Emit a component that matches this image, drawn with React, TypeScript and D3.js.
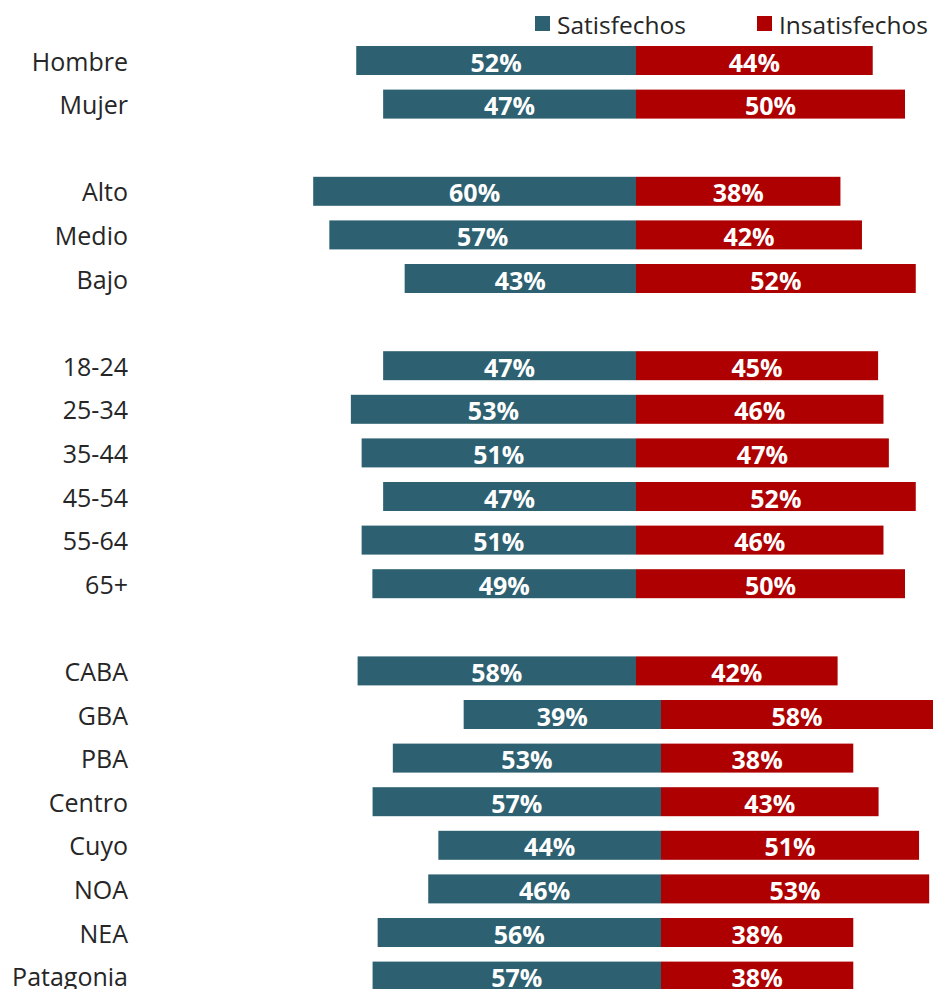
import React from "react";
import * as d3 from "d3";

const categories = [
  "Hombre", "Mujer",
  "Alto", "Medio", "Bajo",
  "18-24", "25-34", "35-44", "45-54", "55-64", "65+",
  "CABA", "GBA", "PBA", "Centro", "Cuyo", "NOA", "NEA", "Patagonia",
];
const groupIndex = [0, 0, 1, 1, 1, 2, 2, 2, 2, 2, 2, 3, 3, 3, 3, 3, 3, 3, 3];
const panelIndex = [0, 0, 0, 0, 0, 0, 0, 0, 0, 0, 0, 1, 2, 2, 2, 2, 2, 2, 2];
const satisfechos = [52, 47, 60, 57, 43, 47, 53, 51, 47, 51, 49, 58, 39, 53, 57, 44, 46, 56, 57];
const insatisfechos = [44, 50, 38, 42, 52, 45, 46, 47, 52, 46, 50, 42, 58, 38, 43, 51, 53, 38, 38];
const seriesNames = ["Satisfechos", "Insatisfechos"];

// layout
const W = 933;
const H = 989;
const COLORS = ["#2d6171", "#ae0000"];
const panelCenters = [636, 636, 661];
const panelPxPerPct = [5.38, 4.8, 5.06];
const FONT = "'Open Sans', 'Noto Sans', sans-serif";
const TEXT = "#262626";

export default function App() {
  const nSlots = categories.length + groupIndex[groupIndex.length - 1];
  const slots = d3.range(nSlots).map(String);
  const y = d3
    .scaleBand<string>()
    .domain(slots)
    .range([38.7, 38.7 + nSlots * 43.6])
    .paddingInner(0.335)
    .paddingOuter(0.1675);
  const bw = y.bandwidth();

  const xScales = panelCenters.map((c, i) =>
    d3.scaleLinear().domain([-100, 100]).range([c - 100 * panelPxPerPct[i], c + 100 * panelPxPerPct[i]])
  );

  const rows = categories.map((cat, i) => {
    const slot = String(i + groupIndex[i]);
    const x = xScales[panelIndex[i]];
    const y0 = y(slot) as number;
    return { cat, i, x, y0, s: satisfechos[i], n: insatisfechos[i] };
  });

  return (
    <svg
      width={W}
      height={H}
      style={{ position: "absolute", left: 0, top: 0, background: "#fff" }}
      fontFamily={FONT}
    >
      <rect x={0} y={0} width={W} height={H} fill="#fff" />
      {/* legend */}
      <g>
        <rect x={535} y={16} width={15} height={15} fill={COLORS[0]} />
        <text x={557} y={24} dominantBaseline="central" fontSize={24.5} fill={TEXT}>
          {seriesNames[0]}
        </text>
        <rect x={757} y={16} width={15} height={15} fill={COLORS[1]} />
        <text x={779} y={24} dominantBaseline="central" fontSize={24.5} fill={TEXT}>
          {seriesNames[1]}
        </text>
      </g>
      {rows.map((r) => {
        const xs0 = r.x(-r.s);
        const xc = r.x(0);
        const xn1 = r.x(r.n);
        const cy = r.y0 + bw / 2;
        return (
          <g key={r.cat}>
            <text x={128} y={cy} textAnchor="end" dominantBaseline="central" fontSize={25} fill={TEXT}>
              {r.cat}
            </text>
            <rect x={xs0} y={r.y0} width={xc - xs0} height={bw} fill={COLORS[0]} />
            <rect x={xc} y={r.y0} width={xn1 - xc} height={bw} fill={COLORS[1]} />
            <text
              x={(xs0 + xc) / 2}
              y={cy + 1}
              textAnchor="middle"
              dominantBaseline="central"
              fontSize={25}
              fontWeight="bold"
              fill="#fff"
            >
              {r.s}%
            </text>
            <text
              x={(xc + Math.min(xn1, W)) / 2}
              y={cy + 1}
              textAnchor="middle"
              dominantBaseline="central"
              fontSize={25}
              fontWeight="bold"
              fill="#fff"
            >
              {r.n}%
            </text>
          </g>
        );
      })}
    </svg>
  );
}
